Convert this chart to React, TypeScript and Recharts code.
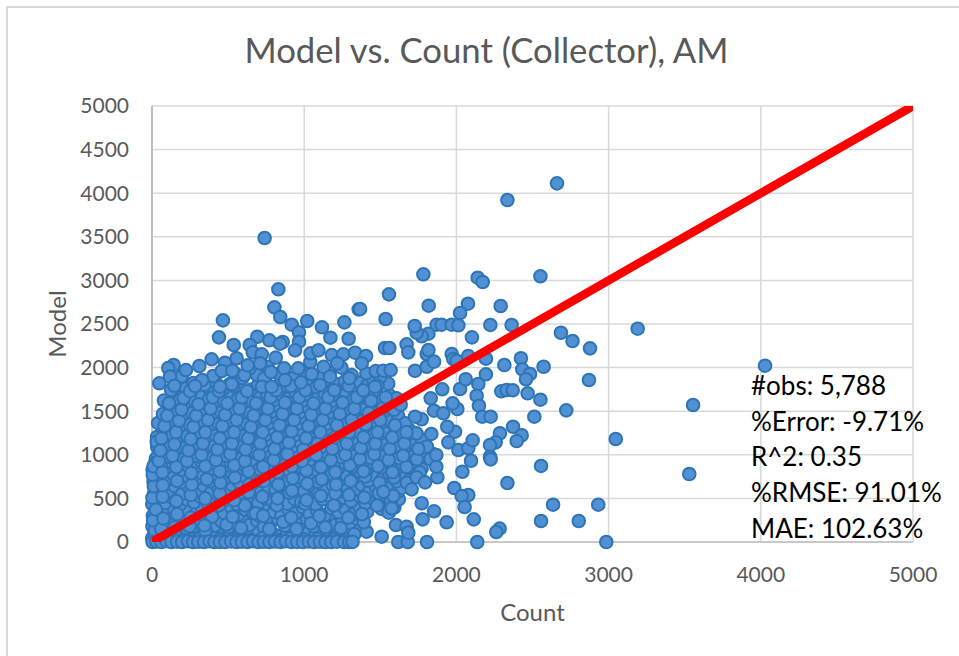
import React from 'react';
import { ScatterChart, Scatter, XAxis, YAxis, CartesianGrid } from 'recharts';

type Pt = [number, number];

const xTicks = [0, 1000, 2000, 3000, 4000, 5000];
const yTicks = [0, 500, 1000, 1500, 2000, 2500, 3000, 3500, 4000, 4500, 5000];
const statLines = ['#obs: 5,788', '%Error: -9.71%', 'R^2: 0.35', '%RMSE: 91.01%', 'MAE: 102.63%'];
const identityLine: Pt[] = [[0, 0], [5000, 5000]];

// along the bottom of the plot
const baseRow: Pt[] = [
  [4, 0], [30, 6], [62, 0], [95, 10], [128, 0], [165, 4], [198, 0], [236, 8], [270, 0], [304, 3], [342, 0], [378, 9],
  [410, 0], [446, 2], [482, 0], [520, 7], [555, 0], [590, 4], [628, 0], [664, 10], [700, 0], [735, 3], [772, 0],
  [808, 5], [845, 0], [880, 8], [918, 0], [955, 2], [992, 0], [1030, 6], [1066, 0], [1104, 3], [1140, 0], [1178, 0],
  [1215, 4], [1262, 0], [1296, 0], [1318, 2], [1618, 0], [1680, 0], [1807, 0], [2137, 0], [2985, 0],
];

// dense part of the cloud, low values
const lowCloud: Pt[] = [
  [8, 62], [44, 88], [92, 55], [140, 104], [188, 72], [232, 118], [280, 66], [326, 96], [372, 58], [420, 124], [468, 78], [510, 108],
  [562, 64], [606, 112], [652, 74], [700, 120], [748, 58], [790, 102], [842, 70], [886, 126], [934, 82], [982, 60], [1028, 114], [1074, 76],
  [1122, 122], [1168, 84], [1216, 110], [1262, 68], [1302, 128], [1354, 150], [1410, 118],
  [3, 178], [38, 214], [84, 166], [126, 236], [176, 192], [224, 248], [268, 172], [318, 222], [360, 258], [412, 186], [456, 238], [502, 170],
  [548, 226], [598, 260], [640, 194], [692, 244], [734, 176], [784, 232], [828, 266], [874, 188], [926, 246], [970, 208], [1018, 264], [1062, 180],
  [1110, 238], [1156, 272], [1206, 198], [1250, 252], [1298, 214], [1346, 268], [1392, 226],
  [6, 302], [48, 344], [98, 318], [146, 372], [190, 296], [238, 352], [286, 326], [330, 384], [378, 306], [428, 362], [474, 332], [522, 392],
  [566, 312], [614, 370], [662, 338], [708, 296], [756, 382], [802, 346], [850, 308], [896, 376], [944, 330], [990, 398], [1036, 320], [1084, 362],
  [1132, 300], [1178, 388], [1226, 340], [1272, 376], [1320, 318], [1366, 392], [1414, 348], [1508, 380], [1556, 336], [1592, 396],
  [2, 432], [42, 476], [86, 448], [134, 506], [182, 426], [228, 488], [276, 456], [322, 514], [370, 438], [416, 498], [464, 462], [512, 524],
  [558, 436], [604, 484], [654, 520], [698, 446], [746, 502], [794, 466], [838, 530], [888, 440], [936, 494], [980, 458], [1026, 516], [1076, 434],
  [1120, 490], [1170, 526], [1214, 452], [1262, 506], [1308, 470], [1356, 534], [1402, 444], [1450, 498], [1498, 462], [1544, 528], [1590, 438], [1622, 490],
  [14, 562], [58, 604], [106, 578], [150, 636], [198, 552], [246, 618], [292, 586], [340, 644], [386, 564], [434, 626], [482, 596], [528, 652],
  [576, 558], [622, 612], [670, 642], [716, 572], [764, 630], [812, 598], [858, 654], [904, 566], [952, 622], [1000, 586], [1046, 648], [1094, 560],
  [1142, 616], [1188, 650], [1236, 582], [1284, 634], [1330, 598], [1378, 656], [1424, 570], [1472, 626], [1518, 592], [1564, 648], [1612, 572], [1640, 620],
];

// dense part of the cloud, middle values
const midCloud: Pt[] = [
  [10, 692], [52, 736], [96, 708], [144, 768], [192, 684], [238, 748], [288, 716], [334, 778], [382, 696], [428, 754], [476, 722], [524, 786],
  [570, 692], [618, 744], [664, 772], [712, 704], [760, 762], [806, 728], [854, 790], [900, 696], [948, 752], [996, 718], [1042, 780], [1090, 690],
  [1136, 748], [1184, 784], [1232, 712], [1278, 766], [1326, 730], [1372, 792], [1420, 702], [1466, 758], [1514, 724], [1560, 784], [1608, 698], [1652, 752], [1694, 716],
  [4, 828], [46, 872], [90, 846], [138, 900], [186, 820], [232, 880], [280, 852], [328, 912], [374, 830], [422, 888], [470, 858], [516, 918],
  [564, 826], [610, 876], [658, 906], [706, 838], [752, 894], [800, 860], [846, 922], [894, 830], [942, 884], [988, 850], [1036, 914], [1082, 824],
  [1130, 882], [1178, 918], [1224, 844], [1272, 898], [1318, 862], [1366, 924], [1412, 836], [1460, 890], [1506, 856], [1554, 916], [1600, 832], [1648, 886], [1692, 850], [1738, 908], [1772, 846],
  [26, 958], [66, 1004], [112, 978], [160, 1036], [208, 952], [254, 1012], [302, 984], [348, 1044], [396, 962], [444, 1020], [490, 990], [538, 1050],
  [584, 956], [632, 1008], [678, 1038], [726, 968], [772, 1026], [820, 992], [868, 1054], [914, 962], [962, 1016], [1008, 982], [1056, 1046], [1104, 956],
  [1150, 1014], [1198, 1050], [1244, 976], [1292, 1030], [1340, 994], [1386, 1056], [1434, 968], [1480, 1022], [1528, 988], [1574, 1048], [1622, 964], [1668, 1018], [1716, 984], [1762, 1042], [1808, 962], [1846, 1010],
  [34, 1092], [76, 1136], [122, 1108], [170, 1168], [218, 1084], [264, 1146], [312, 1116], [358, 1176], [406, 1094], [454, 1152], [500, 1122], [548, 1182],
  [594, 1088], [642, 1142], [688, 1172], [736, 1100], [784, 1158], [830, 1124], [878, 1186], [924, 1096], [972, 1150], [1020, 1116], [1066, 1178], [1114, 1090],
  [1160, 1148], [1208, 1182], [1254, 1108], [1302, 1164], [1350, 1128], [1396, 1190], [1444, 1102], [1490, 1156], [1538, 1120], [1586, 1180], [1632, 1098], [1680, 1152], [1726, 1118], [1772, 1176], [1806, 1094],
];

// dense part of the cloud, high values
const highCloud: Pt[] = [
  [33, 1204], [92, 1262], [136, 1232], [184, 1296], [232, 1214], [278, 1276], [326, 1244], [372, 1304], [420, 1222], [468, 1282], [514, 1250], [562, 1312],
  [608, 1218], [656, 1272], [704, 1302], [750, 1232], [798, 1290], [846, 1256], [892, 1316], [940, 1226], [986, 1280], [1034, 1248], [1082, 1308], [1128, 1220],
  [1176, 1278], [1222, 1314], [1270, 1240], [1318, 1296], [1364, 1258], [1412, 1318], [1458, 1232], [1506, 1286], [1552, 1252], [1600, 1310], [1646, 1228], [1694, 1280], [1738, 1246],
  [40, 1365], [108, 1396], [154, 1366], [202, 1428], [250, 1346], [296, 1408], [344, 1376], [392, 1436], [438, 1354], [486, 1414], [532, 1382], [580, 1442],
  [626, 1350], [674, 1404], [722, 1434], [768, 1364], [816, 1422], [862, 1388], [910, 1448], [958, 1358], [1004, 1412], [1052, 1380], [1098, 1440], [1146, 1352],
  [1192, 1410], [1240, 1446], [1288, 1372], [1334, 1428], [1382, 1390], [1430, 1450], [1476, 1364], [1524, 1418], [1570, 1384], [1618, 1442], [1664, 1362],
  [72, 1468], [122, 1528], [170, 1498], [218, 1560], [266, 1478], [314, 1540], [360, 1508], [408, 1568], [456, 1486], [502, 1546], [550, 1514], [598, 1574],
  [644, 1482], [692, 1536], [738, 1566], [786, 1496], [834, 1554], [880, 1520], [928, 1580], [974, 1490], [1022, 1544], [1070, 1512], [1116, 1572], [1164, 1484],
  [1210, 1542], [1258, 1578], [1306, 1504], [1352, 1560], [1400, 1522], [1448, 1582], [1494, 1496], [1542, 1550], [1590, 1516], [1634, 1574],
  [78, 1622], [138, 1660], [186, 1630], [234, 1692], [282, 1610], [330, 1672], [376, 1640], [424, 1700], [472, 1618], [520, 1678], [566, 1646], [614, 1706],
  [660, 1614], [708, 1668], [756, 1698], [802, 1628], [850, 1686], [898, 1652], [944, 1712], [992, 1622], [1040, 1676], [1086, 1644], [1134, 1704], [1182, 1616],
  [1228, 1674], [1276, 1710], [1322, 1636], [1370, 1692], [1418, 1654], [1464, 1714], [1512, 1628], [1560, 1682], [1606, 1648],
  [126, 1744], [176, 1796], [224, 1762], [272, 1824], [372, 1772], [418, 1834], [466, 1752], [512, 1812], [560, 1780], [650, 1748], [698, 1802], [746, 1832],
  [842, 1820], [888, 1786], [936, 1846], [1032, 1810], [1080, 1778], [1126, 1838], [1220, 1808], [1268, 1844], [1362, 1826], [1410, 1788], [1456, 1848], [1552, 1816],
  [196, 1900], [402, 1904], [548, 1930], [594, 1882], [690, 1918], [736, 1874], [832, 1930], [928, 1880], [1024, 1934], [1118, 1886], [1166, 1940], [1312, 1914], [1408, 1936], [1498, 1888],
  [640, 1990], [760, 2010], [1128, 2008], [1244, 2000], [1470, 1960],
];

// extra overlap, drawn last so outlines break up the rows
const overlapCloud: Pt[] = [
  [2, 40], [18, 130], [7, 250], [25, 372], [3, 508], [12, 640], [5, 770], [20, 905], [10, 870], [31, 1150],
  [60, 150], [112, 30], [150, 170], [205, 24], [248, 180], [305, 38], [352, 130], [395, 290], [445, 30], [490, 200],
  [540, 28], [585, 160], [640, 22], [680, 330], [725, 44], [770, 150], [820, 26], [862, 230], [905, 40], [950, 150],
  [1000, 30], [1045, 215], [1092, 36], [1140, 170], [1190, 30], [1240, 160], [1282, 32], [1330, 90], [75, 270], [165, 320],
  [255, 280], [345, 190], [440, 420], [530, 290], [610, 420], [730, 300], [820, 420], [915, 280], [1005, 440], [1100, 300],
  [1195, 420], [1290, 280], [1380, 320], [1480, 420], [1570, 470], [70, 520], [160, 470], [255, 540], [350, 500], [445, 560],
  [540, 480], [635, 570], [725, 520], [825, 500], [920, 590], [1015, 480], [1110, 530], [1205, 560], [1295, 540], [1395, 510],
  [1490, 560], [1585, 530], [70, 650], [165, 700], [262, 660], [360, 720], [450, 680], [545, 740], [640, 660], [735, 700],
  [830, 660], [925, 730], [1020, 670], [1115, 720], [1210, 660], [1305, 700], [1400, 750], [1495, 680], [1590, 740], [1675, 680],
  [68, 800], [160, 860], [258, 790], [350, 870], [445, 810], [540, 880], [635, 810], [730, 860], [825, 800], [920, 870],
  [1015, 820], [1110, 860], [1205, 800], [1300, 880], [1390, 810], [1485, 870], [1580, 800], [1672, 860], [1760, 800], [45, 930],
  [135, 990], [230, 930], [325, 1000], [420, 940], [515, 1010], [610, 930], [705, 1000], [800, 940], [890, 1010], [985, 930],
  [1080, 1000], [1175, 940], [1270, 1000], [1365, 950], [1460, 1010], [1555, 940], [1650, 990], [1740, 950], [1830, 950], [55, 1050],
  [148, 1120], [240, 1050], [335, 1130], [430, 1060], [525, 1130], [615, 1060], [712, 1130], [805, 1070], [900, 1140], [995, 1060],
  [1090, 1130], [1185, 1070], [1280, 1130], [1372, 1080], [1468, 1130], [1562, 1070], [1658, 1130], [1750, 1070], [62, 1190], [158, 1260],
  [255, 1180], [350, 1260], [445, 1190], [540, 1260], [632, 1190], [728, 1260], [822, 1200], [918, 1270], [1012, 1190], [1106, 1260],
  [1200, 1200], [1295, 1260], [1390, 1200], [1482, 1260], [1578, 1200], [1672, 1260], [82, 1330], [178, 1390], [272, 1320], [368, 1400],
  [462, 1330], [556, 1400], [650, 1320], [745, 1400], [838, 1340], [934, 1400], [1028, 1330], [1122, 1400], [1216, 1340], [1312, 1400],
  [1405, 1350], [1500, 1400], [1596, 1340], [100, 1450], [194, 1520], [290, 1450], [385, 1530], [480, 1460], [575, 1530], [668, 1450],
  [762, 1530], [858, 1470], [952, 1530], [1046, 1460], [1140, 1530], [1234, 1470], [1330, 1530], [1424, 1480], [1518, 1540], [112, 1590],
  [208, 1650], [305, 1580], [400, 1660], [495, 1590], [590, 1660], [684, 1590], [780, 1660], [874, 1600], [968, 1660], [1062, 1590],
  [1158, 1660], [1252, 1600], [1346, 1660], [1440, 1620], [1536, 1660], [250, 1730], [345, 1800], [440, 1730], [535, 1790], [625, 1730],
  [722, 1780], [815, 1740], [912, 1790], [1008, 1740], [1104, 1800], [1198, 1740], [1292, 1790], [1388, 1740], [1482, 1790],
];

// scattered points around the edge of the cloud
const edgePoints: Pt[] = [
  [740, 3486], [830, 2898], [804, 2691], [843, 2580], [918, 2492], [1020, 2534], [1117, 2462], [1172, 2343], [1264, 2519], [1358, 2668], [1292, 2331],
  [466, 2542], [440, 2347], [537, 2259], [692, 2354], [771, 2313], [859, 2294], [841, 2274], [966, 2405], [966, 2297], [642, 2259], [662, 2175],
  [392, 2095], [556, 2107], [480, 2056], [311, 2018], [142, 2030], [107, 1995], [223, 1972], [48, 1820], [118, 1896], [147, 1792], [329, 1858], [283, 1789],
  [458, 1961], [528, 1964], [607, 1915], [629, 2026], [721, 2152], [710, 2049], [813, 2114], [782, 1949], [869, 1992], [940, 2198], [961, 1992],
  [1040, 2064], [1042, 2164], [1093, 2198], [1181, 2144], [1257, 2152], [1217, 2049], [1334, 2171], [1406, 2133], [1378, 2049], [1296, 1877], [1170, 1896],
  [1049, 1927], [979, 1831], [874, 1858], [786, 1781], [524, 1812], [1465, 1781], [447, 1781],
  [1367, 2672], [1535, 2557], [1557, 2840], [1531, 2225], [1559, 2225], [1673, 2267], [1684, 2175], [1520, 1964], [1568, 1972], [1728, 1964],
  [1805, 2010], [1805, 2156], [1853, 2068], [1816, 2202], [1816, 2389], [1772, 2359], [1739, 2400], [1726, 2477],
  [1706, 604], [1739, 742], [1794, 684], [1875, 742], [1868, 864], [1868, 998], [1947, 1143], [1991, 1265], [1940, 1322], [1835, 1239], [1772, 1407], [1728, 1437],
  [1853, 1506], [1914, 1476], [1831, 1648], [1907, 1751], [2006, 1525], [1975, 1590], [2024, 1755], [2061, 1866], [2144, 1812], [2133, 1678], [2148, 1563],
  [1520, 577], [1575, 386], [1509, 61], [1603, 195], [1673, 175], [1684, 107], [1772, 444], [1853, 352], [1778, 260], [1936, 226],
  [2013, 1055], [2078, 1075], [2107, 1166], [2096, 932], [2039, 806], [1986, 619], [2078, 539], [2035, 527], [2054, 401], [2114, 260],
  [2170, 1437], [2225, 1437], [2286, 1247], [2258, 1143], [2221, 1112], [2221, 978], [2225, 948], [2372, 1322], [2429, 1224], [2396, 1158],
  [1969, 2156], [1980, 2099], [2002, 2079], [2078, 2133], [2194, 2102], [2194, 1923], [2315, 2030], [2424, 2107], [2433, 1980], [2573, 2010], [2484, 1927], [2457, 1866],
  [2295, 1728], [2330, 1743], [2370, 1740], [2468, 1705], [2552, 1632], [2512, 1437],
];

// the few far from the rest
const outliers: Pt[] = [
  [2661, 4113], [2335, 3922], [1783, 3070], [2140, 3031], [2173, 2982], [2552, 3047], [1818, 2710], [2076, 2733], [2291, 2706], [2024, 2626],
  [1870, 2492], [1903, 2492], [1969, 2492], [2013, 2485], [2223, 2489], [2363, 2489], [2102, 2347], [2687, 2400], [2763, 2305], [2878, 2221], [3191, 2446],
  [2871, 1858], [2722, 1510], [3047, 1181], [2556, 872], [2335, 677], [2635, 428], [2932, 428], [2556, 241], [2804, 241], [2284, 153], [2262, 115],
  [4028, 2022], [3555, 1571], [3530, 780],
];

const toRows = (pts: Pt[]) => pts.map(([count, model]) => ({ count, model }));
const allPoints = toRows([...lowCloud, ...midCloud, ...highCloud, ...overlapCloud, ...baseRow, ...edgePoints, ...outliers]);

const Dot = (props: any) => (
  <circle cx={props.cx} cy={props.cy} r={6.3} fill="#5090d3" stroke="#2e75b6" strokeWidth={2} />
);

const fontFamily = 'Lato, sans-serif';

export default function App() {
  return (
    <div style={{ position: 'absolute', left: 0, top: 0, width: 959, height: 656, background: '#fff', fontFamily, overflow: 'hidden' }}>
      <div style={{ position: 'absolute', left: 6, top: 6, width: 1000, height: 700, border: '2px solid #d9d9d9' }} />
      <div style={{ position: 'absolute', left: 0, width: 973, top: 29, textAlign: 'center', fontSize: 34.7, color: '#595959' }}>
        Model vs. Count (Collector), AM
      </div>
      <div style={{ position: 'absolute', left: 0, top: 0 }}>
        <ScatterChart width={959} height={656} margin={{ top: 106, right: 46, bottom: 64, left: 60 }}>
          <CartesianGrid stroke="#d9d9d9" strokeWidth={1.5} />
          <XAxis
            type="number"
            dataKey="count"
            domain={[0, 5000]}
            ticks={xTicks}
            height={50}
            tickLine={false}
            tickMargin={19}
            axisLine={{ stroke: '#bfbfbf', strokeWidth: 1.5 }}
            tick={{ fill: '#595959', fontSize: 21, fontFamily }}
            label={{ value: 'Count', position: 'insideBottom', offset: -29, fill: '#595959', fontSize: 24, fontFamily }}
          />
          <YAxis
            type="number"
            dataKey="model"
            domain={[0, 5000]}
            ticks={yTicks}
            width={92}
            tickLine={false}
            tickMargin={17}
            axisLine={{ stroke: '#bfbfbf', strokeWidth: 2 }}
            tick={{ fill: '#595959', fontSize: 21, fontFamily }}
            label={{ value: 'Model', angle: -90, position: 'insideLeft', offset: -3, fill: '#595959', fontSize: 24, fontFamily, style: { textAnchor: 'middle' } }}
          />
          <Scatter data={allPoints} shape={Dot} isAnimationActive={false} />
        </ScatterChart>
      </div>
      {/* second chart only for the red line, so it gets clipped to the plot box */}
      <div style={{ position: 'absolute', left: 0, top: 0 }}>
        <ScatterChart width={959} height={656} margin={{ top: 106, right: 46, bottom: 114, left: 152 }}>
          <XAxis type="number" dataKey="count" domain={[0, 5000]} hide allowDataOverflow />
          <YAxis type="number" dataKey="model" domain={[0, 5000]} hide allowDataOverflow />
          <Scatter
            data={toRows(identityLine)}
            line={{ stroke: '#ff0000', strokeWidth: 8.5, strokeLinecap: 'round' }}
            shape={() => <g />}
            isAnimationActive={false}
          />
        </ScatterChart>
      </div>
      <div style={{ position: 'absolute', left: 751, top: 368, fontSize: 26, lineHeight: '35.7px', color: '#000', whiteSpace: 'nowrap' }}>
        {statLines.map((line) => (
          <div key={line}>{line}</div>
        ))}
      </div>
    </div>
  );
}
